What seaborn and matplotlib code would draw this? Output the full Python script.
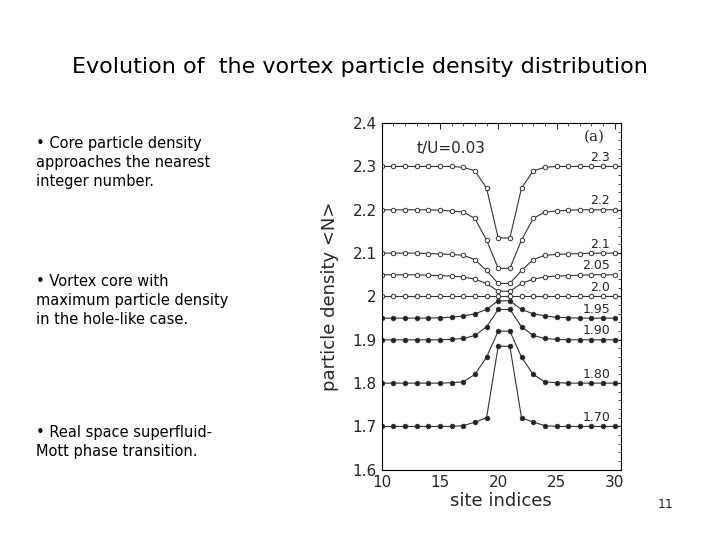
import matplotlib
matplotlib.use("Agg")
import matplotlib.pyplot as plt
import seaborn as sns
import pandas as pd
import numpy as np

sites = list(range(10, 31))
labels = ["2.3", "2.2", "2.1", "2.05", "2.0", "1.95", "1.90", "1.80", "1.70"]
# half-profile values for sites 10..20 (mirrored for 21..30)
half = {
    "2.3":  [2.30]*7 + [2.298, 2.29, 2.25, 2.135],
    "2.2":  [2.20]*5 + [2.199, 2.197, 2.195, 2.18, 2.13, 2.065],
    "2.1":  [2.10]*4 + [2.099, 2.098, 2.097, 2.095, 2.085, 2.06, 2.03],
    "2.05": [2.05]*4 + [2.049, 2.048, 2.047, 2.045, 2.04, 2.03, 2.012],
    "2.0":  [2.00]*11,
    "1.95": [1.95]*5 + [1.951, 1.952, 1.955, 1.96, 1.97, 1.99],
    "1.90": [1.90]*6 + [1.901, 1.903, 1.91, 1.93, 1.97],
    "1.80": [1.80]*6 + [1.801, 1.803, 1.82, 1.86, 1.92],
    "1.70": [1.70]*7 + [1.702, 1.71, 1.72, 1.885],
}

rows = []
for lab in labels:
    h = half[lab]
    vals = h + h[::-1][:10]
    for s, v in zip(sites, vals):
        rows.append(dict(site=s, n=v, curve=lab))
df = pd.DataFrame(rows)

sns.set_style("white")
fig = plt.figure(figsize=(7.2, 5.4), dpi=100)
fig.text(0.5, 0.865, "Evolution of  the vortex particle density distribution",
         ha="center", fontsize=16, color="black")
fig.text(0.05, 0.655, "• Core particle density\napproaches the nearest\ninteger number.",
         fontsize=10.5, linespacing=1.35, color="black")
fig.text(0.05, 0.40, "• Vortex core with\nmaximum particle density\nin the hole-like case.",
         fontsize=10.5, linespacing=1.35, color="black")
fig.text(0.05, 0.155, "• Real space superfluid-\nMott phase transition.",
         fontsize=10.5, linespacing=1.35, color="black")
fig.text(0.935, 0.06, "11", fontsize=9, ha="right")

ax = fig.add_axes([0.53, 0.13, 0.332, 0.642])
for lab in labels:
    d = df[df.curve == lab]
    filled = float(lab) < 2.0
    sns.lineplot(data=d, x="site", y="n", ax=ax, color="#333333", lw=0.8,
                 marker="o", markersize=3.2,
                 markerfacecolor="#222222" if filled else "white",
                 markeredgecolor="#333333", markeredgewidth=0.7, legend=False)
    ax.text(29.6, float(lab) + 0.006, lab, ha="right", va="bottom", fontsize=9)
ax.text(13, 2.33, "t/U=0.03", fontsize=11)
ax.text(27.3, 2.36, "(a)", fontsize=11, family="DejaVu Serif")
ax.set_xlim(10, 30.5)
ax.set_ylim(1.6, 2.4)
ax.set_xticks([10, 15, 20, 25, 30])
ax.set_yticks(np.round(np.arange(1.6, 2.41, 0.1), 1))
ax.set_yticklabels(["1.6", "1.7", "1.8", "1.9", "2", "2.1", "2.2", "2.3", "2.4"])
ax.minorticks_on()
ax.tick_params(which="both", direction="in", top=True, right=True, labelsize=11)
ax.tick_params(which="major", length=4)
ax.tick_params(which="minor", length=2)
ax.set_xlabel("site indices", fontsize=13, labelpad=2)
ax.set_ylabel("particle density <N>", fontsize=13, labelpad=10)
for s in ax.spines.values():
    s.set_color("black"); s.set_linewidth(0.8)
fig.savefig("out.png", dpi=100)
